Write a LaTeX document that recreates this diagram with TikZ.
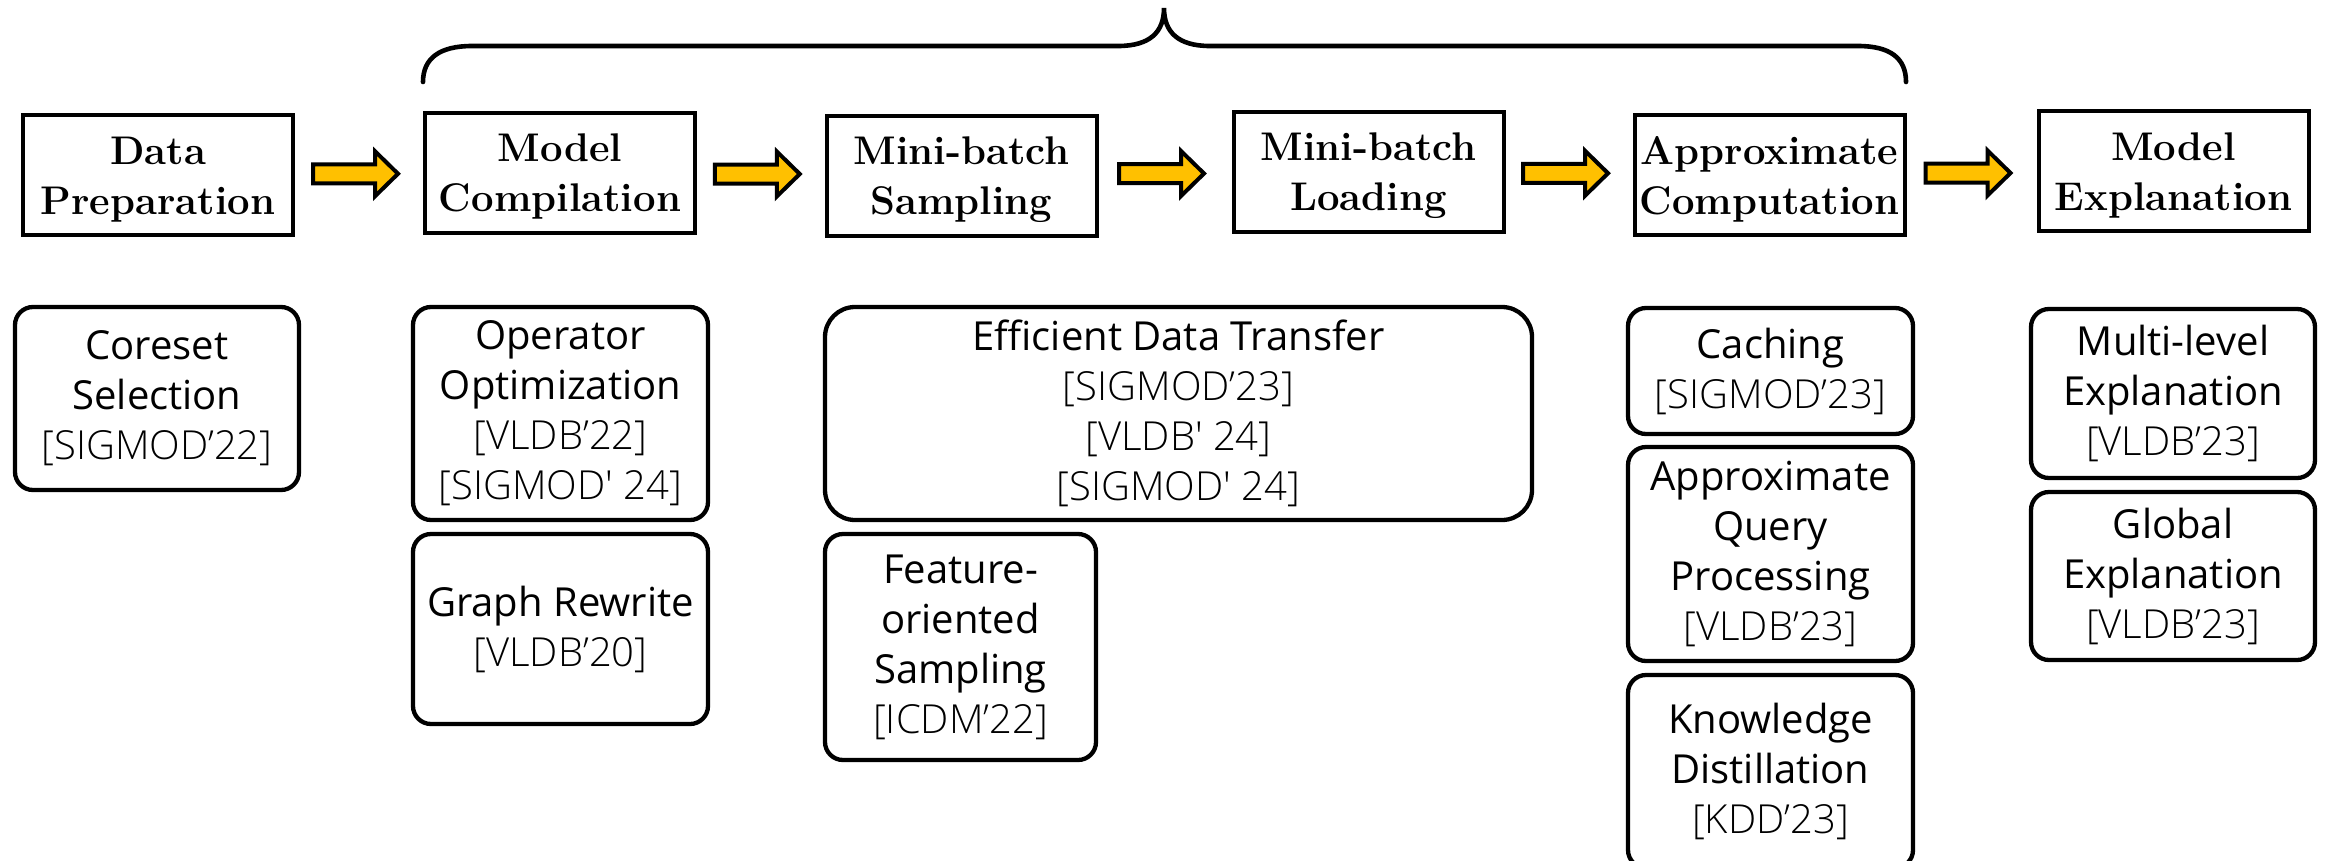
\documentclass[tikz,border=0pt]{standalone}
\usepackage{fontspec}
\setsansfont{Open Sans}
\newfontfamily\citefont{Open Sans Light}
\usetikzlibrary{calc}
\definecolor{arrowgold}{HTML}{FFC000}
\tikzset{
  stage/.style={draw=black, line width=4pt, minimum width=270pt, minimum height=120pt,
    inner sep=0pt, align=center, font=\fontsize{40}{50}\selectfont\bfseries},
  topic/.style={draw=black, line width=4.3pt, rounded corners=18pt, inner sep=0pt,
    align=center, font=\sffamily\fontsize{40}{50}\selectfont},
  blockarrow/.style={draw=black, fill=arrowgold, line width=4pt, line join=miter},
  bracepath/.style={draw=black, line width=4.6pt, line cap=round}
}
\newcommand{\venue}[1]{{\citefont #1}}
% taller first line keeps the stage labels a little below the box centre
\newcommand{\topstrut}{\rule{0pt}{36pt}}
% block arrow centred between two stage boxes
\newcommand{\stagearrow}[2]{%
  \coordinate (#1-#2) at ($(#1.east)!0.5!(#2.west)+(-3,0)$);
  \draw[blockarrow, shift={(#1-#2)}] (-43,-9.5) -- (19,-9.5) -- (19,-22.5) -- (42,0)
    -- (19,22.5) -- (19,9.5) -- (-43,9.5) -- cycle;}
\begin{document}
\begin{tikzpicture}[x=1pt, y=-1pt]
\useasboundingbox (0,0) rectangle (2329,860);
\clip (0,0) rectangle (2329,860);

% pipeline stages
\node[stage] (dp) at (158,175)     {\topstrut Data\\Preparation};
\node[stage] (mc) at (560,172.5)   {\topstrut Model\\Compilation};
\node[stage] (ms) at (961.5,175.5) {\topstrut Mini-batch\\Sampling};
\node[stage] (ml) at (1368.5,171.5){\topstrut Mini-batch\\Loading};
\node[stage] (ac) at (1769.5,175)  {\topstrut Approximate\\Computation};
\node[stage] (me) at (2173.5,171)  {\topstrut Model\\Explanation};

\stagearrow{dp}{mc}
\stagearrow{mc}{ms}
\stagearrow{ms}{ml}
\stagearrow{ml}{ac}
\stagearrow{ac}{me}

% brace over the middle stages
\coordinate (braceL) at (423,82);
\coordinate (braceTip) at (1164,8);
\coordinate (braceR) at (1906,82);
\draw[bracepath] (braceL) .. controls (423,58) and (440,46) .. (472,46) -- (1118,46)
  .. controls (1150,46) and (1164,32) .. (braceTip)
  .. controls (1164,32) and (1178,46) .. (1210,46) -- (1858,46)
  .. controls (1890,46) and (1906,58) .. (braceR);

% techniques per stage
\node[topic, minimum width=284pt, minimum height=183pt] (cs) at (157,398.5)
  {Coreset\\Selection\\\venue{[SIGMOD’22]}};
\node[topic, minimum width=295pt, minimum height=213pt] (oo) at (560.5,413.5)
  {Operator\\Optimization\\\venue{[VLDB’22]}\\\venue{[SIGMOD\textquotesingle{} 24]}};
\node[topic, minimum width=295pt, minimum height=190pt] (gr) at (560.5,629)
  {Graph Rewrite\\\venue{[VLDB’20]}};
\node[topic, rounded corners=30pt, minimum width=707pt, minimum height=213pt] (edt) at (1178.5,413.5)
  {Efficient Data Transfer\\\venue{[SIGMOD’23]}\\\venue{[VLDB\textquotesingle{} 24]}\\\venue{[SIGMOD\textquotesingle{} 24]}};
\node[topic, minimum width=271pt, minimum height=226pt] (fos) at (960.5,647)
  {Feature-\\oriented\\Sampling\\\venue{[ICDM’22]}};
\node[topic, minimum width=285pt, minimum height=126pt] (ca) at (1770.5,371)
  {Caching\\\venue{[SIGMOD’23]}};
\node[topic, minimum width=285pt, minimum height=214pt] (aqp) at (1770.5,554)
  {Approximate\\Query\\Processing\\\venue{[VLDB’23]}};
\node[topic, minimum width=285pt, minimum height=193pt] (kd) at (1770.5,771.5)
  {Knowledge\\Distillation\\\venue{[KDD’23]}};
\node[topic, minimum width=284pt, minimum height=169pt] (mle) at (2173,393.5)
  {Multi-level\\Explanation\\\venue{[VLDB’23]}};
\node[topic, minimum width=284pt, minimum height=168pt] (ge) at (2173,576)
  {Global\\Explanation\\\venue{[VLDB’23]}};
\end{tikzpicture}
\end{document}
